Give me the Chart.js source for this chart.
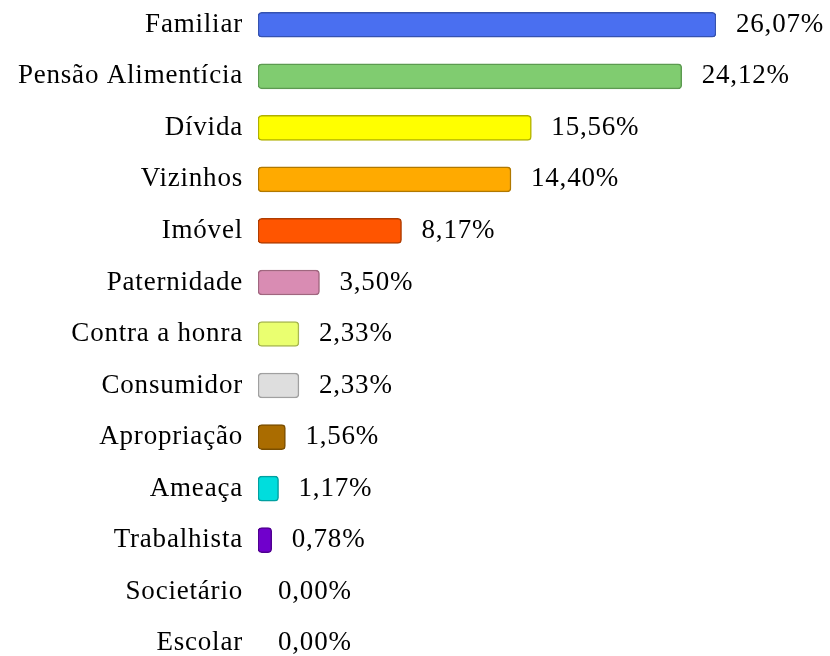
<!DOCTYPE html>
<html>
<head>
<meta charset="utf-8">
<script src="https://cdn.jsdelivr.net/npm/chart.js@4.4.1/dist/chart.umd.min.js"></script>
<style>
  html, body { margin: 0; padding: 0; background: #fff; overflow: hidden; }
  #wrap { position: absolute; left: 0; top: -1px; width: 830px; height: 670px; }
</style>
</head>
<body>
<div id="wrap"><canvas id="chart"></canvas></div>
<script>
const categories = ["Familiar", "Pensão Alimentícia", "Dívida", "Vizinhos", "Imóvel", "Paternidade",
  "Contra a honra", "Consumidor", "Apropriação", "Ameaça", "Trabalhista", "Societário", "Escolar"];
const percentages = [26.07, 24.12, 15.56, 14.40, 8.17, 3.50, 2.33, 2.33, 1.56, 1.17, 0.78, 0, 0];
const fillColors = ["#4a6ff0", "#80cc70", "#ffff00", "#ffaa00", "#ff5500", "#d98cb3",
  "#eaff70", "#dedede", "#aa6c00", "#00dddd", "#7000cc", "#cccccc", "#cccccc"];
const borderColors = ["#3552b0", "#5c9a50", "#b0b000", "#b07800", "#b03c00", "#a0667f",
  "#a8b850", "#a0a0a0", "#7a4e00", "#00a0a0", "#500090", "#999999", "#999999"];

const fontFamily = "'Liberation Serif', 'Times New Roman', serif";

const fmt = (v) => v.toFixed(2).replace(".", ",") + "%";

// values written after the end of each bar
const valueLabels = {
  id: "valueLabels",
  afterDatasetsDraw(chart) {
    const ctx = chart.ctx;
    const meta = chart.getDatasetMeta(0);
    ctx.save();
    ctx.letterSpacing = "0.8px";
    ctx.font = "27px " + fontFamily;
    ctx.fillStyle = "#000";
    ctx.textAlign = "left";
    ctx.textBaseline = "middle";
    meta.data.forEach((bar, i) => {
      ctx.fillText(fmt(percentages[i]), bar.x + 20, bar.y);
    });
    ctx.restore();
  }
};

const spacing = {
  id: "spacing",
  beforeDraw(chart) {
    chart.ctx.letterSpacing = "0.8px";
  }
};

new Chart(document.getElementById("chart"), {
  type: "bar",
  data: {
    labels: categories,
    datasets: [{
      data: percentages,
      backgroundColor: (c) => (percentages[c.dataIndex] > 0 ? fillColors[c.dataIndex] : "rgba(0,0,0,0)"),
      borderColor: borderColors,
      borderWidth: (c) => (percentages[c.dataIndex] > 0 ? 1.5 : 0),
      borderRadius: 4,
      borderSkipped: false,
      barThickness: 25
    }]
  },
  options: {
    indexAxis: "y",
    responsive: true,
    maintainAspectRatio: false,
    animation: false,
    layout: { padding: { left: 0, right: 114, top: 0, bottom: 0 } },
    plugins: {
      legend: { display: false },
      tooltip: { enabled: false }
    },
    scales: {
      x: {
        display: false,
        min: 0,
        max: 26.07
      },
      y: {
        grid: { display: false, drawTicks: false },
        border: { display: false },
        ticks: {
          color: "#000",
          padding: 15,
          font: { family: fontFamily, size: 27 }
        },
        afterFit(scale) {
          scale.width = 258;
          scale.paddingTop = 0;
          scale.paddingBottom = 0;
        }
      }
    }
  },
  plugins: [spacing, valueLabels]
});
</script>
</body>
</html>
